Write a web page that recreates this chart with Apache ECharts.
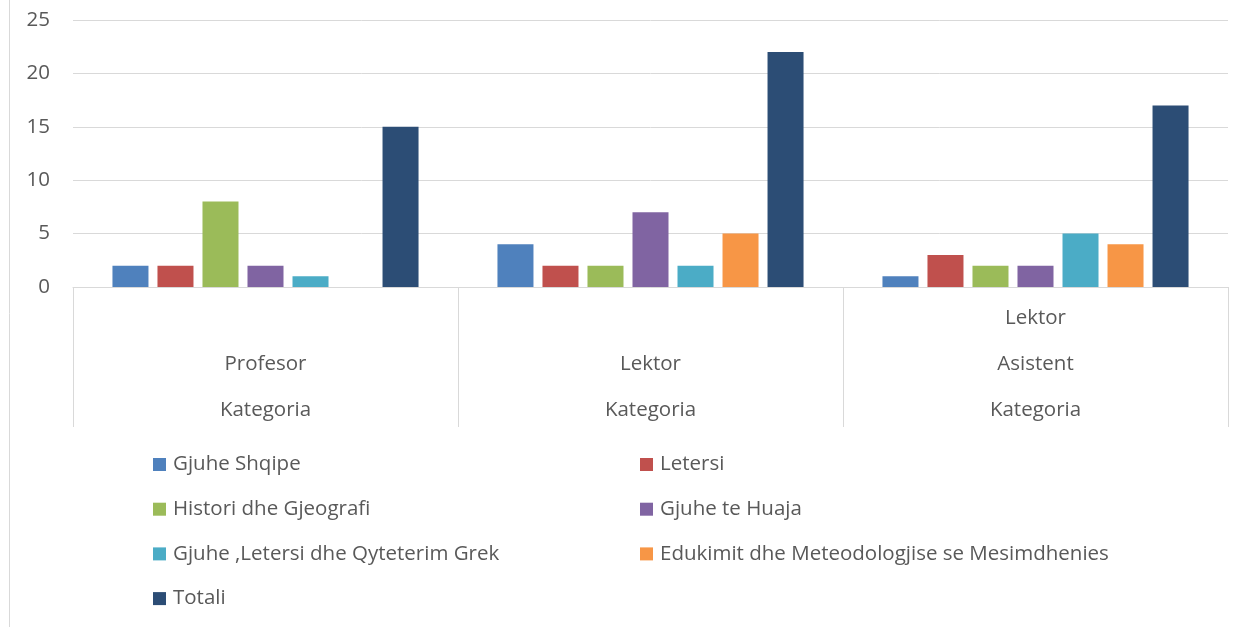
<!DOCTYPE html>
<html>
<head>
<meta charset="utf-8">
<script src="https://cdn.jsdelivr.net/npm/echarts@6/dist/echarts.min.js"></script>
<style>
  html, body { margin: 0; padding: 0; background: #fff; }
  #chart { width: 1252px; height: 627px; }
</style>
</head>
<body>
<div id="chart"></div>
<script>
// kategorite (rreshtat e etiketave te boshtit x)
const categories = ['\nProfesor\nKategoria', '\nLektor\nKategoria', 'Lektor\nAsistent\nKategoria']
const yTicks = [0, 5, 10, 15, 20, 25]

const seriesNames = [
  'Gjuhe Shqipe',
  'Letersi',
  'Histori dhe Gjeografi',
  'Gjuhe te Huaja',
  'Gjuhe ,Letersi dhe Qyteterim Grek',
  'Edukimit dhe Meteodologjise se Mesimdhenies',
  'Totali',
]
const gjuheShqipe = [2, 4, 1]
const letersi = [2, 2, 3]
const historiGjeografi = [8, 2, 2]
const gjuheHuaja = [2, 7, 2]
const gjuheGrek = [1, 2, 5]
const edukimit = [0, 5, 4]
const totali = [15, 22, 17]

const values = [gjuheShqipe, letersi, historiGjeografi, gjuheHuaja, gjuheGrek, edukimit, totali]
const colors = ['#4F81BD', '#C0504D', '#9BBB59', '#8064A2', '#4BACC6', '#F79646', '#2C4D75']

const font = '"Open Sans", sans-serif'
const textColor = '#595959'
const lineColor = '#d9d9d9'

const chart = echarts.init(document.getElementById('chart'))

const series = []
for (let i = 0; i < seriesNames.length; i++) {
  series.push({
    name: seriesNames[i],
    type: 'bar',
    barGap: '25%',
    barCategoryGap: '20.5%',
    itemStyle: { color: colors[i] },
    data: values[i],
  })
}

const legendText = { color: textColor, fontFamily: font, fontSize: 20.5, lineHeight: 20, padding: [0, 0, 0, 2] }

chart.setOption({
  animation: false,
  grid: { left: 73, right: 24, top: 20, bottom: 340 },
  xAxis: {
    type: 'category',
    data: categories,
    axisLine: { show: true, lineStyle: { color: lineColor, width: 1 } },
    axisTick: { show: true, alignWithLabel: false, interval: 0, length: 140, lineStyle: { color: lineColor, width: 1 } },
    axisLabel: {
      color: textColor,
      fontFamily: font,
      fontSize: 20.5,
      lineHeight: 46,
      margin: 8,
      interval: 0,
    },
  },
  yAxis: {
    type: 'value',
    min: yTicks[0],
    max: yTicks[yTicks.length - 1],
    interval: 5,
    axisLine: { show: false },
    axisTick: { show: false },
    splitLine: { lineStyle: { color: lineColor, width: 1 } },
    axisLabel: { color: textColor, fontFamily: font, fontSize: 20.5, margin: 23 },
  },
  legend: [
    {
      orient: 'vertical',
      left: 148,
      top: 449,
      itemWidth: 13,
      itemHeight: 13,
      itemGap: 23.7,
      icon: 'rect',
      textStyle: legendText,
      data: [seriesNames[0], seriesNames[2], seriesNames[4], seriesNames[6]],
    },
    {
      orient: 'vertical',
      left: 635,
      top: 449,
      itemWidth: 13,
      itemHeight: 13,
      itemGap: 23.7,
      icon: 'rect',
      textStyle: legendText,
      data: [seriesNames[1], seriesNames[3], seriesNames[5]],
    },
  ],
  graphic: [
    {
      type: 'line',
      shape: { x1: 9.5, y1: 0, x2: 9.5, y2: 627 },
      style: { stroke: lineColor, lineWidth: 1 },
    },
  ],
  series: series,
})
</script>
</body>
</html>
